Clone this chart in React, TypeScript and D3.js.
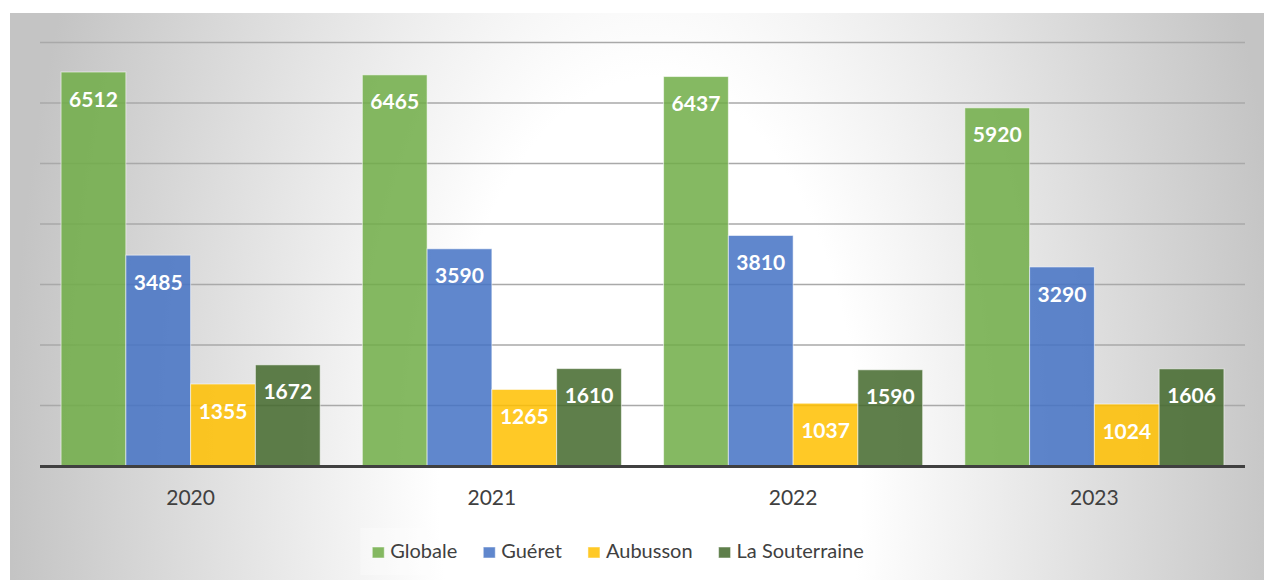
import React, { useEffect, useRef } from 'react';
import * as d3 from 'd3';

const years = ['2020', '2021', '2022', '2023'];
const series = ['Globale', 'Guéret', 'Aubusson', 'La Souterraine'];
const globale = [6512, 6465, 6437, 5920];
const gueret = [3485, 3590, 3810, 3290];
const aubusson = [1355, 1265, 1037, 1024];
const souterraine = [1672, 1610, 1590, 1606];
const colors = ['#70AD47', '#4472C4', '#FFC000', '#43682B'];
const yTicks = [1000, 2000, 3000, 4000, 5000, 6000, 7000];

const values = [globale, gueret, aubusson, souterraine];
const font = 'Lato, "Open Sans", sans-serif';

const App = () => {
  const legendRef = useRef<SVGGElement>(null);

  const width = 1264;
  const height = 581;
  const x0 = d3.scaleBand().domain(years).range([40, 1245]).paddingInner(0.14).paddingOuter(0.07);
  const x1 = d3.scaleBand().domain(series).range([0, x0.bandwidth()]);
  const y = d3.scaleLinear().domain([0, 7000]).range([466, 42.5]);

  // legend: measure text, then centre the row
  useEffect(() => {
    const g = d3.select(legendRef.current);
    g.selectAll('*').remove();
    const items = g.selectAll('g.item').data(series).enter().append('g').attr('class', 'item');
    items.append('rect')
      .attr('width', 12).attr('height', 11).attr('y', 547)
      .attr('fill', (d, i) => colors[i]).attr('fill-opacity', 0.85)
      .attr('stroke', '#fff').attr('stroke-opacity', 0.5);
    items.append('text')
      .attr('x', 18).attr('y', 558)
      .style('font-family', font).style('font-size', '20px').attr('fill', '#404040')
      .text(d => d);
    let cx = 0;
    const offsets: number[] = [];
    items.each(function () {
      const t = d3.select(this).select('text').node() as SVGTextElement;
      offsets.push(cx);
      cx += 18 + t.getComputedTextLength() + 26;
    });
    const total = cx - 26;
    const start = 618 - total / 2;
    items.attr('transform', (d, i) => `translate(${start + offsets[i]},0)`);
    g.insert('rect', ':first-child')
      .attr('x', start - 12).attr('y', 528).attr('width', total + 24).attr('height', 47)
      .attr('fill', '#fff').attr('fill-opacity', 0.3);
  }, []);

  return (
    <svg width={width} height={height} style={{ position: 'absolute', left: 0, top: 0 }}>
      <defs>
        <radialGradient id="bg" gradientUnits="userSpaceOnUse" cx={650} cy={480} r={640}
          gradientTransform="translate(650,480) scale(1,1.9) translate(-650,-480)">
          <stop offset="0" stopColor="#ffffff" />
          <stop offset="0.33" stopColor="#ffffff" />
          <stop offset="1" stopColor="#c4c4c4" />
        </radialGradient>
      </defs>
      <rect width={width} height={height} fill="#fff" />
      <rect x={10} y={13} width={1254} height={567} fill="url(#bg)" />

      {yTicks.map(t => (
        <line key={t} x1={40} x2={1245} y1={y(t)} y2={y(t)} stroke="#a9a9a9" strokeWidth={1.5} />
      ))}

      {years.map((yr, yi) => (
        <g key={yr} transform={`translate(${x0(yr)},0)`}>
          {series.map((s, si) => {
            const v = values[si][yi];
            return (
              <rect key={s} x={x1(s)} width={x1.bandwidth()} y={y(v)} height={y(0) - y(v)}
                fill={colors[si]} fillOpacity={0.85} stroke="#fff" strokeOpacity={0.55} strokeWidth={1} />
            );
          })}
          {series.map((s, si) => {
            const v = values[si][yi];
            return (
              <text key={s} x={(x1(s) as number) + x1.bandwidth() / 2} y={y(v) + 27} dy="0.36em"
                textAnchor="middle" fill="#fff" fontWeight="bold" fontSize={21} fontFamily={font}>
                {v}
              </text>
            );
          })}
          <text x={x0.bandwidth() / 2} y={505} textAnchor="middle" fill="#404040" fontSize={21} fontFamily={font}>
            {yr}
          </text>
        </g>
      ))}

      <line x1={40} x2={1245} y1={y(0) + 0.5} y2={y(0) + 0.5} stroke="#404040" strokeWidth={3} />

      <g ref={legendRef} />
    </svg>
  );
};

export default App;
